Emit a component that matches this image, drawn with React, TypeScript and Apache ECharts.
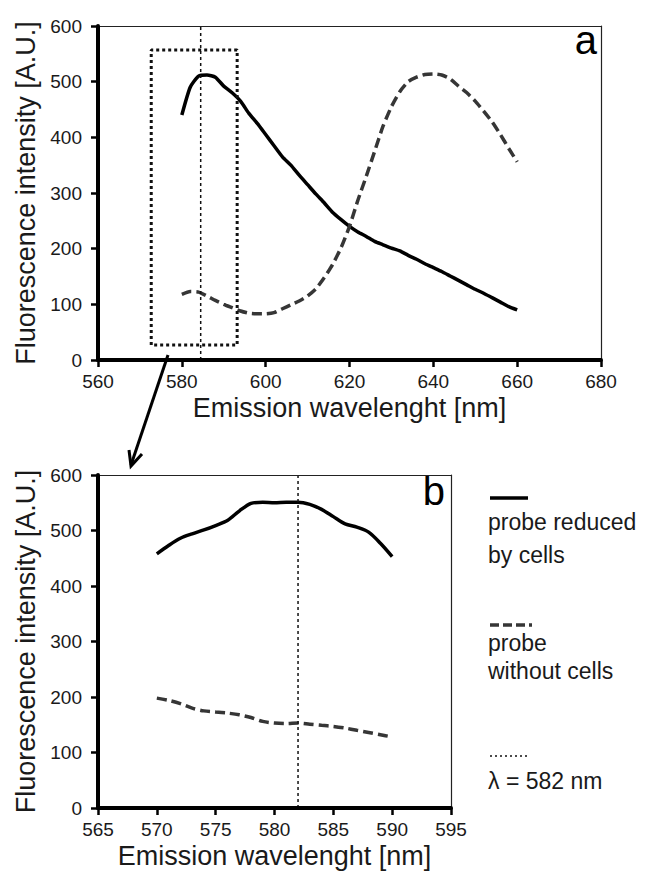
import React, { useEffect, useRef } from "react";
import * as echarts from "echarts";

// ---- Data ----
const topWavelengths = [580, 582, 584, 586, 588, 590, 592, 594, 596, 598, 600, 602, 604, 606, 608, 610, 612, 614, 616, 618, 620, 622, 624, 626, 628, 630, 632, 634, 636, 638, 640, 642, 644, 646, 648, 650, 652, 654, 656, 658, 660];
const topReduced = [440, 490, 510, 512, 508, 492, 480, 465, 443, 425, 405, 385, 365, 350, 332, 315, 298, 282, 265, 252, 240, 230, 222, 213, 207, 201, 196, 188, 181, 173, 166, 159, 151, 143, 135, 127, 120, 112, 104, 96, 90];
const topWithout = [118, 123, 122, 115, 107, 100, 94, 88, 84, 83, 83, 85, 92, 99, 106, 115, 128, 148, 172, 202, 240, 287, 330, 375, 420, 455, 482, 500, 508, 513, 514, 512, 505, 492, 480, 465, 447, 428, 405, 380, 356];
const topMarker = 584.5;
const zoomBoxX = [572.7, 593.2];
const zoomBoxY = [27, 557];

const bottomWavelengths = [570, 571, 572, 573, 574, 575, 576, 577, 578, 579, 580, 581, 582, 583, 584, 585, 586, 587, 588, 589, 590];
const bottomReduced = [458, 473, 486, 494, 501, 509, 518, 535, 549, 551, 550, 551, 551, 547, 538, 525, 512, 506, 497, 477, 453];
const bottomWithout = [198, 194, 188, 180, 175, 173, 171, 168, 163, 156, 153, 152, 153, 151, 149, 147, 144, 140, 136, 132, 128];
const bottomMarker = 582;

const topXTicks = [560, 580, 600, 620, 640, 660, 680];
const bottomXTicks = [565, 570, 575, 580, 585, 590, 595];
const yTicks = [0, 100, 200, 300, 400, 500, 600];

const xTitle = "Emission wavelenght [nm]";
const yTitle = "Fluorescence intensity [A.U.]";
const legendTexts = ["probe reduced", "by cells", "probe", "without cells", "λ = 582 nm"];

const FONT = "'Liberation Sans', Arial, Helvetica, sans-serif";
const TXT = "#1a1a1a";
const DASH_COLOR = "#363636";

function zip(xs: number[], ys: number[]) {
  return xs.map((x, i) => [x, ys[i]]);
}

function xAxisFor(grid: number, ticks: number[]) {
  return {
    type: "value",
    gridIndex: grid,
    position: "bottom",
    min: ticks[0],
    max: ticks[ticks.length - 1],
    interval: ticks[1] - ticks[0],
    z: 5,
    axisLine: { show: true, onZero: false, lineStyle: { color: "#000", width: 4 } },
    axisTick: { show: true, length: 7, lineStyle: { color: "#000", width: 2.5 } },
    splitLine: { show: false },
    axisLabel: { fontSize: 19, color: TXT, fontFamily: FONT, margin: 12 },
    name: xTitle,
    nameLocation: "middle",
    nameGap: 34,
    nameTextStyle: { fontSize: 27, color: TXT, fontFamily: FONT },
  };
}

function yAxisFor(grid: number) {
  return {
    type: "value",
    gridIndex: grid,
    position: "left",
    min: yTicks[0],
    max: yTicks[yTicks.length - 1],
    interval: yTicks[1] - yTicks[0],
    z: 5,
    axisLine: { show: true, onZero: false, lineStyle: { color: "#000", width: 4 } },
    axisTick: { show: true, length: 7, lineStyle: { color: "#000", width: 2.5 } },
    splitLine: { show: false },
    axisLabel: { fontSize: 19, color: TXT, fontFamily: FONT, margin: 16 },
    name: yTitle,
    nameLocation: "middle",
    nameRotate: 90,
    nameGap: 56,
    nameTextStyle: { fontSize: 27, color: TXT, fontFamily: FONT },
  };
}

function borderAxis(kind: "x" | "y", grid: number, ticks: number[]) {
  return {
    type: "value",
    gridIndex: grid,
    position: kind === "x" ? "top" : "right",
    min: ticks[0],
    max: ticks[ticks.length - 1],
    interval: ticks[1] - ticks[0],
    z: 4,
    axisLine: { show: true, onZero: false, lineStyle: { color: "#222", width: 1.2 } },
    axisTick: { show: false },
    axisLabel: { show: false },
    splitLine: { show: false },
  };
}

export default function App() {
  const ref = useRef<HTMLDivElement>(null);
  useEffect(() => {
    if (!ref.current) return;
    const chart = echarts.init(ref.current, undefined, { renderer: "svg" });
    const solid = { color: "#000", width: 3.5, type: "solid" };
    const dashed = { color: DASH_COLOR, width: 3.5, type: [10, 5] };
    const dotted = { color: "#111", width: 1.5, type: [3, 3] };
    chart.setOption({
      animation: false,
      backgroundColor: "#fff",
      grid: [
        { left: 98, top: 26, width: 503, height: 334, show: false },
        { left: 98, top: 475, width: 353, height: 333, show: false },
      ],
      xAxis: [xAxisFor(0, topXTicks), xAxisFor(1, bottomXTicks), borderAxis("x", 0, topXTicks), borderAxis("x", 1, bottomXTicks)],
      yAxis: [yAxisFor(0), yAxisFor(1), borderAxis("y", 0, yTicks), borderAxis("y", 1, yTicks)],
      series: [
        { type: "line", xAxisIndex: 0, yAxisIndex: 0, data: zip(topWavelengths, topReduced), showSymbol: false, symbol: "none", smooth: 0.2, lineStyle: solid },
        { type: "line", xAxisIndex: 0, yAxisIndex: 0, data: zip(topWavelengths, topWithout), showSymbol: false, symbol: "none", smooth: 0.2, lineStyle: dashed },
        { type: "line", xAxisIndex: 0, yAxisIndex: 0, data: [[topMarker, yTicks[0]], [topMarker, yTicks[yTicks.length - 1]]], symbol: "none", lineStyle: dotted },
        {
          type: "line", xAxisIndex: 0, yAxisIndex: 0, symbol: "none",
          data: [[zoomBoxX[0], zoomBoxY[0]], [zoomBoxX[0], zoomBoxY[1]], [zoomBoxX[1], zoomBoxY[1]], [zoomBoxX[1], zoomBoxY[0]], [zoomBoxX[0], zoomBoxY[0]]],
          lineStyle: { color: "#111", width: 3, type: [3, 3] },
        },
        { type: "line", xAxisIndex: 1, yAxisIndex: 1, data: zip(bottomWavelengths, bottomReduced), showSymbol: false, symbol: "none", smooth: 0.3, lineStyle: solid },
        { type: "line", xAxisIndex: 1, yAxisIndex: 1, data: zip(bottomWavelengths, bottomWithout), showSymbol: false, symbol: "none", smooth: 0.3, lineStyle: dashed },
        { type: "line", xAxisIndex: 1, yAxisIndex: 1, data: [[bottomMarker, yTicks[0]], [bottomMarker, yTicks[yTicks.length - 1]]], symbol: "none", lineStyle: dotted },
      ],
      graphic: [
        { type: "text", right: 648 - 597, top: 20, style: { text: "a", fontSize: 40, fontFamily: FONT, fill: "#000" } },
        { type: "text", right: 648 - 445, top: 471, style: { text: "b", fontSize: 40, fontFamily: FONT, fill: "#000" } },
        // arrow from zoom box to panel b
        { type: "line", shape: { x1: 168, y1: 355, x2: 131, y2: 465 }, style: { stroke: "#000", lineWidth: 3 } },
        { type: "polyline", shape: { points: [[129, 450], [131, 466], [142, 454]] }, style: { stroke: "#000", lineWidth: 3, fill: "none" } },
        // legend
        { type: "line", shape: { x1: 490, y1: 498, x2: 528, y2: 498 }, style: { stroke: "#000", lineWidth: 3.5 } },
        { type: "text", x: 488, y: 522, style: { text: legendTexts[0], fontSize: 23, fontFamily: FONT, fill: TXT, verticalAlign: "middle" } },
        { type: "text", x: 488, y: 555, style: { text: legendTexts[1], fontSize: 23, fontFamily: FONT, fill: TXT, verticalAlign: "middle" } },
        { type: "line", shape: { x1: 490, y1: 625, x2: 532, y2: 625 }, style: { stroke: DASH_COLOR, lineWidth: 3.5, lineDash: [9, 4] } },
        { type: "text", x: 488, y: 643, style: { text: legendTexts[2], fontSize: 23, fontFamily: FONT, fill: TXT, verticalAlign: "middle" } },
        { type: "text", x: 488, y: 671, style: { text: legendTexts[3], fontSize: 23, fontFamily: FONT, fill: TXT, verticalAlign: "middle" } },
        { type: "line", shape: { x1: 490, y1: 756, x2: 530, y2: 756 }, style: { stroke: "#111", lineWidth: 1.5, lineDash: [2, 3] } },
        { type: "text", x: 488, y: 781, style: { text: legendTexts[4], fontSize: 23, fontFamily: FONT, fill: TXT, verticalAlign: "middle" } },
      ],
    });
    return () => chart.dispose();
  }, []);
  return <div ref={ref} style={{ position: "fixed", left: 0, top: 0, width: 648, height: 872, background: "#fff" }} />;
}
